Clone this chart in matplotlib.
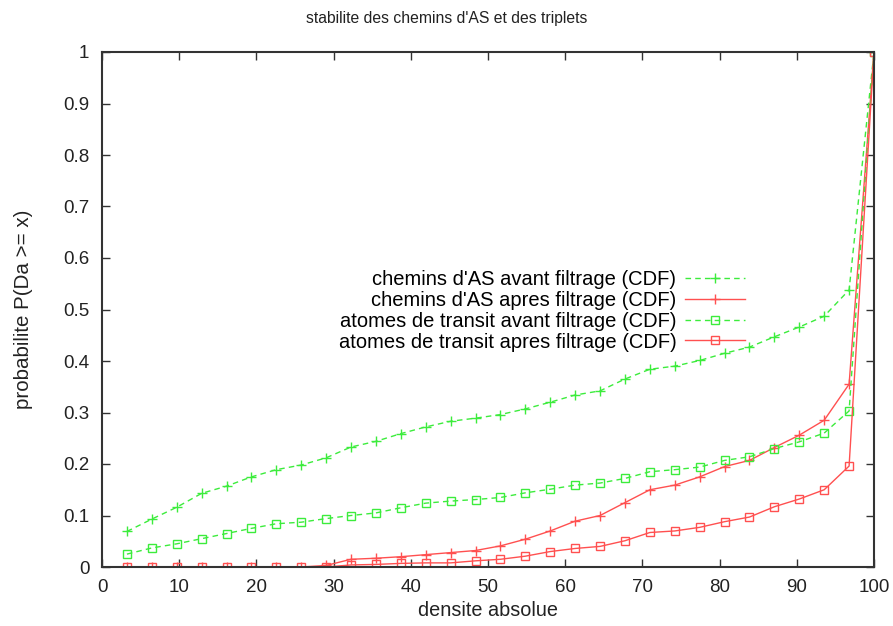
import numpy as np
import matplotlib
matplotlib.use('Agg')
import matplotlib.pyplot as plt

plt.rcParams['font.family'] = ['Liberation Sans', 'DejaVu Sans']

# x positions: 31 classes of density, k*100/31
x = [100.0 * k / 31 for k in range(1, 32)]

chemins_avant = [0.069, 0.093, 0.116, 0.143, 0.157, 0.175, 0.189, 0.198, 0.212, 0.233,
                 0.244, 0.259, 0.272, 0.283, 0.289, 0.296, 0.307, 0.320, 0.334, 0.342,
                 0.365, 0.384, 0.390, 0.401, 0.415, 0.427, 0.447, 0.466, 0.487, 0.538, 1.0]
chemins_apres = [0.0, 0.0, 0.0, 0.0, 0.0, 0.0, 0.0, 0.0, 0.003, 0.015,
                 0.017, 0.020, 0.024, 0.028, 0.032, 0.041, 0.054, 0.070, 0.089, 0.100,
                 0.125, 0.150, 0.159, 0.175, 0.195, 0.207, 0.232, 0.256, 0.285, 0.355, 1.0]
transit_avant = [0.025, 0.037, 0.045, 0.055, 0.065, 0.075, 0.084, 0.087, 0.094, 0.100,
                 0.105, 0.115, 0.124, 0.128, 0.131, 0.135, 0.144, 0.151, 0.159, 0.163,
                 0.172, 0.185, 0.189, 0.194, 0.207, 0.214, 0.230, 0.243, 0.260, 0.303, 1.0]
transit_apres = [0.0, 0.0, 0.0, 0.0, 0.0, 0.0, 0.0, 0.0, 0.0, 0.004,
                 0.005, 0.007, 0.008, 0.008, 0.012, 0.015, 0.021, 0.030, 0.036, 0.040,
                 0.051, 0.067, 0.070, 0.077, 0.088, 0.097, 0.117, 0.132, 0.150, 0.196, 1.0]

green = '#3cec3c'
red = '#ff5050'
dash = (0, (4, 3))

fig = plt.figure(figsize=(8.93, 6.26), dpi=100)
ax = fig.add_axes([102 / 893, 1 - 567 / 626, 772 / 893, 515 / 626])

ax.plot(x, chemins_avant, color=green, lw=1, ls=dash, marker='+', ms=6.5, mew=1,
        label="chemins d'AS avant filtrage (CDF)")
ax.plot(x, chemins_apres, color=red, lw=1, marker='+', ms=6.5, mew=1,
        label="chemins d'AS apres filtrage (CDF)")
ax.plot(x, transit_avant, color=green, lw=1, ls=dash, marker='s', ms=6, mew=1, mfc='none',
        label="atomes de transit avant filtrage (CDF)")
ax.plot(x, transit_apres, color=red, lw=1, marker='s', ms=6, mew=1, mfc='none',
        label="atomes de transit apres filtrage (CDF)")

ax.set_xlim(0, 100)
ax.set_ylim(0, 1)
ax.set_xticks(range(0, 101, 10))
ax.set_yticks(np.arange(0, 1.01, 0.1))
ax.set_yticklabels(['0', '0.1', '0.2', '0.3', '0.4', '0.5', '0.6', '0.7', '0.8', '0.9', '1'])
ax.tick_params(direction='in', length=6, width=1, top=True, right=True,
               labelsize=13.5, colors='#333333', labelcolor='#222222', pad=9)
for s in ax.spines.values():
    s.set_color('#333333')
    s.set_linewidth(1.5)

fig.text(0.5, 1 - 18 / 626, "stabilite des chemins d'AS et des triplets",
         fontsize=11.3, color='#222222', ha='center', va='center')
ax.set_xlabel('densite absolue', fontsize=14.3, color='#222222', labelpad=3)
ax.set_ylabel('probabilite P(Da >= x)', fontsize=14.8, color='#222222', labelpad=22)

ax.legend(loc='upper right', bbox_to_anchor=(755 / 893, 1 - 260 / 626),
          bbox_transform=fig.transFigure, frameon=False, markerfirst=False,
          fontsize=14.5, handlelength=3.0, handletextpad=0.4, borderpad=0,
          labelspacing=0.09)

fig.savefig('out.png', dpi=100)
